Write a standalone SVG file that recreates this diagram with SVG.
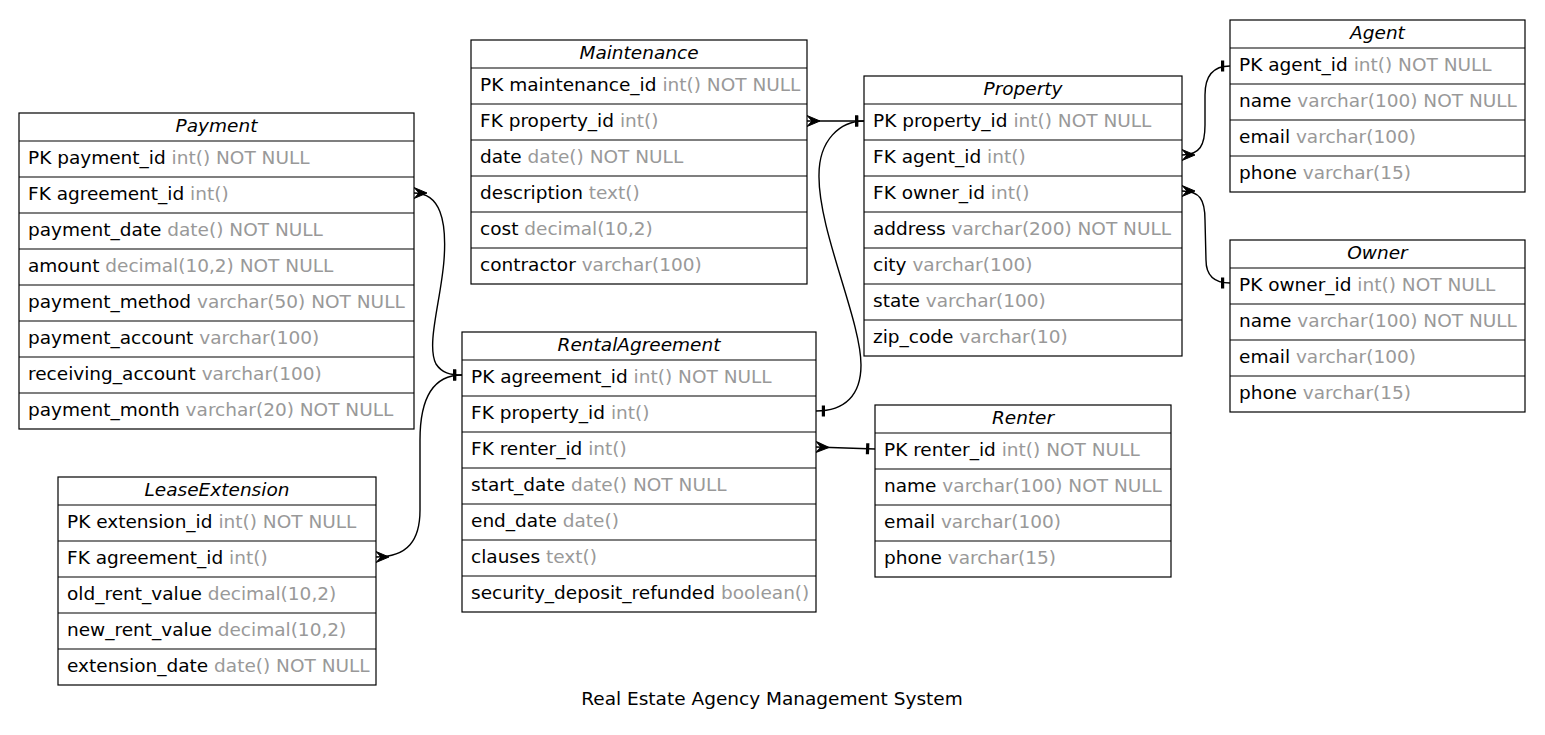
<svg xmlns="http://www.w3.org/2000/svg" width="1545" height="735" viewBox="0 0 1545 735">
<style>
text{font-family:"DejaVu Sans",Verdana,sans-serif;font-size:18.5px;fill:#000}
.h{font-style:italic;text-anchor:middle}
.g{fill:#999}
.box{fill:#fff;stroke:#000;stroke-width:1.2}
.sep{stroke:#000;stroke-width:1.2}
.edge{fill:none;stroke:#000;stroke-width:1.4}
</style>
<defs>
<marker id="crow" markerUnits="userSpaceOnUse" markerWidth="20" markerHeight="20" refX="0" refY="0" orient="auto-start-reverse" overflow="visible">
<path d="M0,-5.5 L-13,0 L0,5.5 L-5,0 Z" fill="#000" stroke="#000" stroke-width="1"/>
</marker>
<marker id="tee" markerUnits="userSpaceOnUse" markerWidth="20" markerHeight="20" refX="0" refY="0" orient="auto-start-reverse" overflow="visible">
<rect x="-9" y="-5.5" width="3.2" height="11" fill="#000"/>
</marker>
</defs>
<rect width="1545" height="735" fill="#fff"/>

<g id="connectors">
<path class="edge" d="M807,121 L864,121" marker-start="url(#crow)" marker-end="url(#tee)"/>
<path class="edge" d="M816,411 C845,411 861,395 861,365 C861,320 818,230 819,175 C819,140 840,121 864,121" marker-start="url(#tee)" marker-end="url(#tee)"/>
<path class="edge" d="M414,193 C440,193 447,220 444,260 C441,300 426,345 436,364 C442,373 450,375 462,375" marker-start="url(#crow)" marker-end="url(#tee)"/>
<path class="edge" d="M376,557 C408,557 420,540 420,510 L420,440 C420,395 435,375 462,375" marker-start="url(#crow)" marker-end="url(#tee)"/>
<path class="edge" d="M1182,155 C1200,155 1205,145 1205,125 L1205,95 C1205,75 1214,66 1230,66" marker-start="url(#crow)" marker-end="url(#tee)"/>
<path class="edge" d="M1182,191 C1200,191 1205,200 1205,220 L1206,260 C1206,275 1214,283 1230,283" marker-start="url(#crow)" marker-end="url(#tee)"/>
<path class="edge" d="M816,447 L875,449" marker-start="url(#crow)" marker-end="url(#tee)"/>
</g>

<g id="Payment">
<rect class="box" x="19" y="113" width="395" height="316"/>
<text class="h" x="216.5" y="132">Payment</text>
<path class="sep" d="M19,141H414M19,177H414M19,213H414M19,249H414M19,285H414M19,321H414M19,357H414M19,393H414"/>
<text x="28" y="164">PK payment_id <tspan class="g">int() NOT NULL</tspan></text>
<text x="28" y="200">FK agreement_id <tspan class="g">int()</tspan></text>
<text x="28" y="236">payment_date <tspan class="g">date() NOT NULL</tspan></text>
<text x="28" y="272">amount <tspan class="g">decimal(10,2) NOT NULL</tspan></text>
<text x="28" y="308">payment_method <tspan class="g">varchar(50) NOT NULL</tspan></text>
<text x="28" y="344">payment_account <tspan class="g">varchar(100)</tspan></text>
<text x="28" y="380">receiving_account <tspan class="g">varchar(100)</tspan></text>
<text x="28" y="416">payment_month <tspan class="g">varchar(20) NOT NULL</tspan></text>
</g>

<g id="Maintenance">
<rect class="box" x="471" y="40" width="336" height="244"/>
<text class="h" x="639" y="59">Maintenance</text>
<path class="sep" d="M471,68H807M471,104H807M471,140H807M471,176H807M471,212H807M471,248H807"/>
<text x="480" y="91">PK maintenance_id <tspan class="g">int() NOT NULL</tspan></text>
<text x="480" y="127">FK property_id <tspan class="g">int()</tspan></text>
<text x="480" y="163">date <tspan class="g">date() NOT NULL</tspan></text>
<text x="480" y="199">description <tspan class="g">text()</tspan></text>
<text x="480" y="235">cost <tspan class="g">decimal(10,2)</tspan></text>
<text x="480" y="271">contractor <tspan class="g">varchar(100)</tspan></text>
</g>

<g id="Property">
<rect class="box" x="864" y="76" width="318" height="280"/>
<text class="h" x="1023" y="95">Property</text>
<path class="sep" d="M864,104H1182M864,140H1182M864,176H1182M864,212H1182M864,248H1182M864,284H1182M864,320H1182"/>
<text x="873" y="127">PK property_id <tspan class="g">int() NOT NULL</tspan></text>
<text x="873" y="163">FK agent_id <tspan class="g">int()</tspan></text>
<text x="873" y="199">FK owner_id <tspan class="g">int()</tspan></text>
<text x="873" y="235">address <tspan class="g">varchar(200) NOT NULL</tspan></text>
<text x="873" y="271">city <tspan class="g">varchar(100)</tspan></text>
<text x="873" y="307">state <tspan class="g">varchar(100)</tspan></text>
<text x="873" y="343">zip_code <tspan class="g">varchar(10)</tspan></text>
</g>

<g id="Agent">
<rect class="box" x="1230" y="20" width="295" height="172"/>
<text class="h" x="1377.5" y="39">Agent</text>
<path class="sep" d="M1230,48H1525M1230,84H1525M1230,120H1525M1230,156H1525"/>
<text x="1239" y="71">PK agent_id <tspan class="g">int() NOT NULL</tspan></text>
<text x="1239" y="107">name <tspan class="g">varchar(100) NOT NULL</tspan></text>
<text x="1239" y="143">email <tspan class="g">varchar(100)</tspan></text>
<text x="1239" y="179">phone <tspan class="g">varchar(15)</tspan></text>
</g>

<g id="Owner">
<rect class="box" x="1230" y="240" width="295" height="172"/>
<text class="h" x="1377.5" y="259">Owner</text>
<path class="sep" d="M1230,268H1525M1230,304H1525M1230,340H1525M1230,376H1525"/>
<text x="1239" y="291">PK owner_id <tspan class="g">int() NOT NULL</tspan></text>
<text x="1239" y="327">name <tspan class="g">varchar(100) NOT NULL</tspan></text>
<text x="1239" y="363">email <tspan class="g">varchar(100)</tspan></text>
<text x="1239" y="399">phone <tspan class="g">varchar(15)</tspan></text>
</g>

<g id="RentalAgreement">
<rect class="box" x="462" y="332" width="354" height="280"/>
<text class="h" x="639" y="351">RentalAgreement</text>
<path class="sep" d="M462,360H816M462,396H816M462,432H816M462,468H816M462,504H816M462,540H816M462,576H816"/>
<text x="471" y="383">PK agreement_id <tspan class="g">int() NOT NULL</tspan></text>
<text x="471" y="419">FK property_id <tspan class="g">int()</tspan></text>
<text x="471" y="455">FK renter_id <tspan class="g">int()</tspan></text>
<text x="471" y="491">start_date <tspan class="g">date() NOT NULL</tspan></text>
<text x="471" y="527">end_date <tspan class="g">date()</tspan></text>
<text x="471" y="563">clauses <tspan class="g">text()</tspan></text>
<text x="471" y="599">security_deposit_refunded <tspan class="g">boolean()</tspan></text>
</g>

<g id="Renter">
<rect class="box" x="875" y="405" width="296" height="172"/>
<text class="h" x="1023" y="424">Renter</text>
<path class="sep" d="M875,433H1171M875,469H1171M875,505H1171M875,541H1171"/>
<text x="884" y="456">PK renter_id <tspan class="g">int() NOT NULL</tspan></text>
<text x="884" y="492">name <tspan class="g">varchar(100) NOT NULL</tspan></text>
<text x="884" y="528">email <tspan class="g">varchar(100)</tspan></text>
<text x="884" y="564">phone <tspan class="g">varchar(15)</tspan></text>
</g>

<g id="LeaseExtension">
<rect class="box" x="58" y="477" width="318" height="208"/>
<text class="h" x="217" y="496">LeaseExtension</text>
<path class="sep" d="M58,505H376M58,541H376M58,577H376M58,613H376M58,649H376"/>
<text x="67" y="528">PK extension_id <tspan class="g">int() NOT NULL</tspan></text>
<text x="67" y="564">FK agreement_id <tspan class="g">int()</tspan></text>
<text x="67" y="600">old_rent_value <tspan class="g">decimal(10,2)</tspan></text>
<text x="67" y="636">new_rent_value <tspan class="g">decimal(10,2)</tspan></text>
<text x="67" y="672">extension_date <tspan class="g">date() NOT NULL</tspan></text>
</g>

<text x="772" y="705" text-anchor="middle">Real Estate Agency Management System</text>
</svg>
